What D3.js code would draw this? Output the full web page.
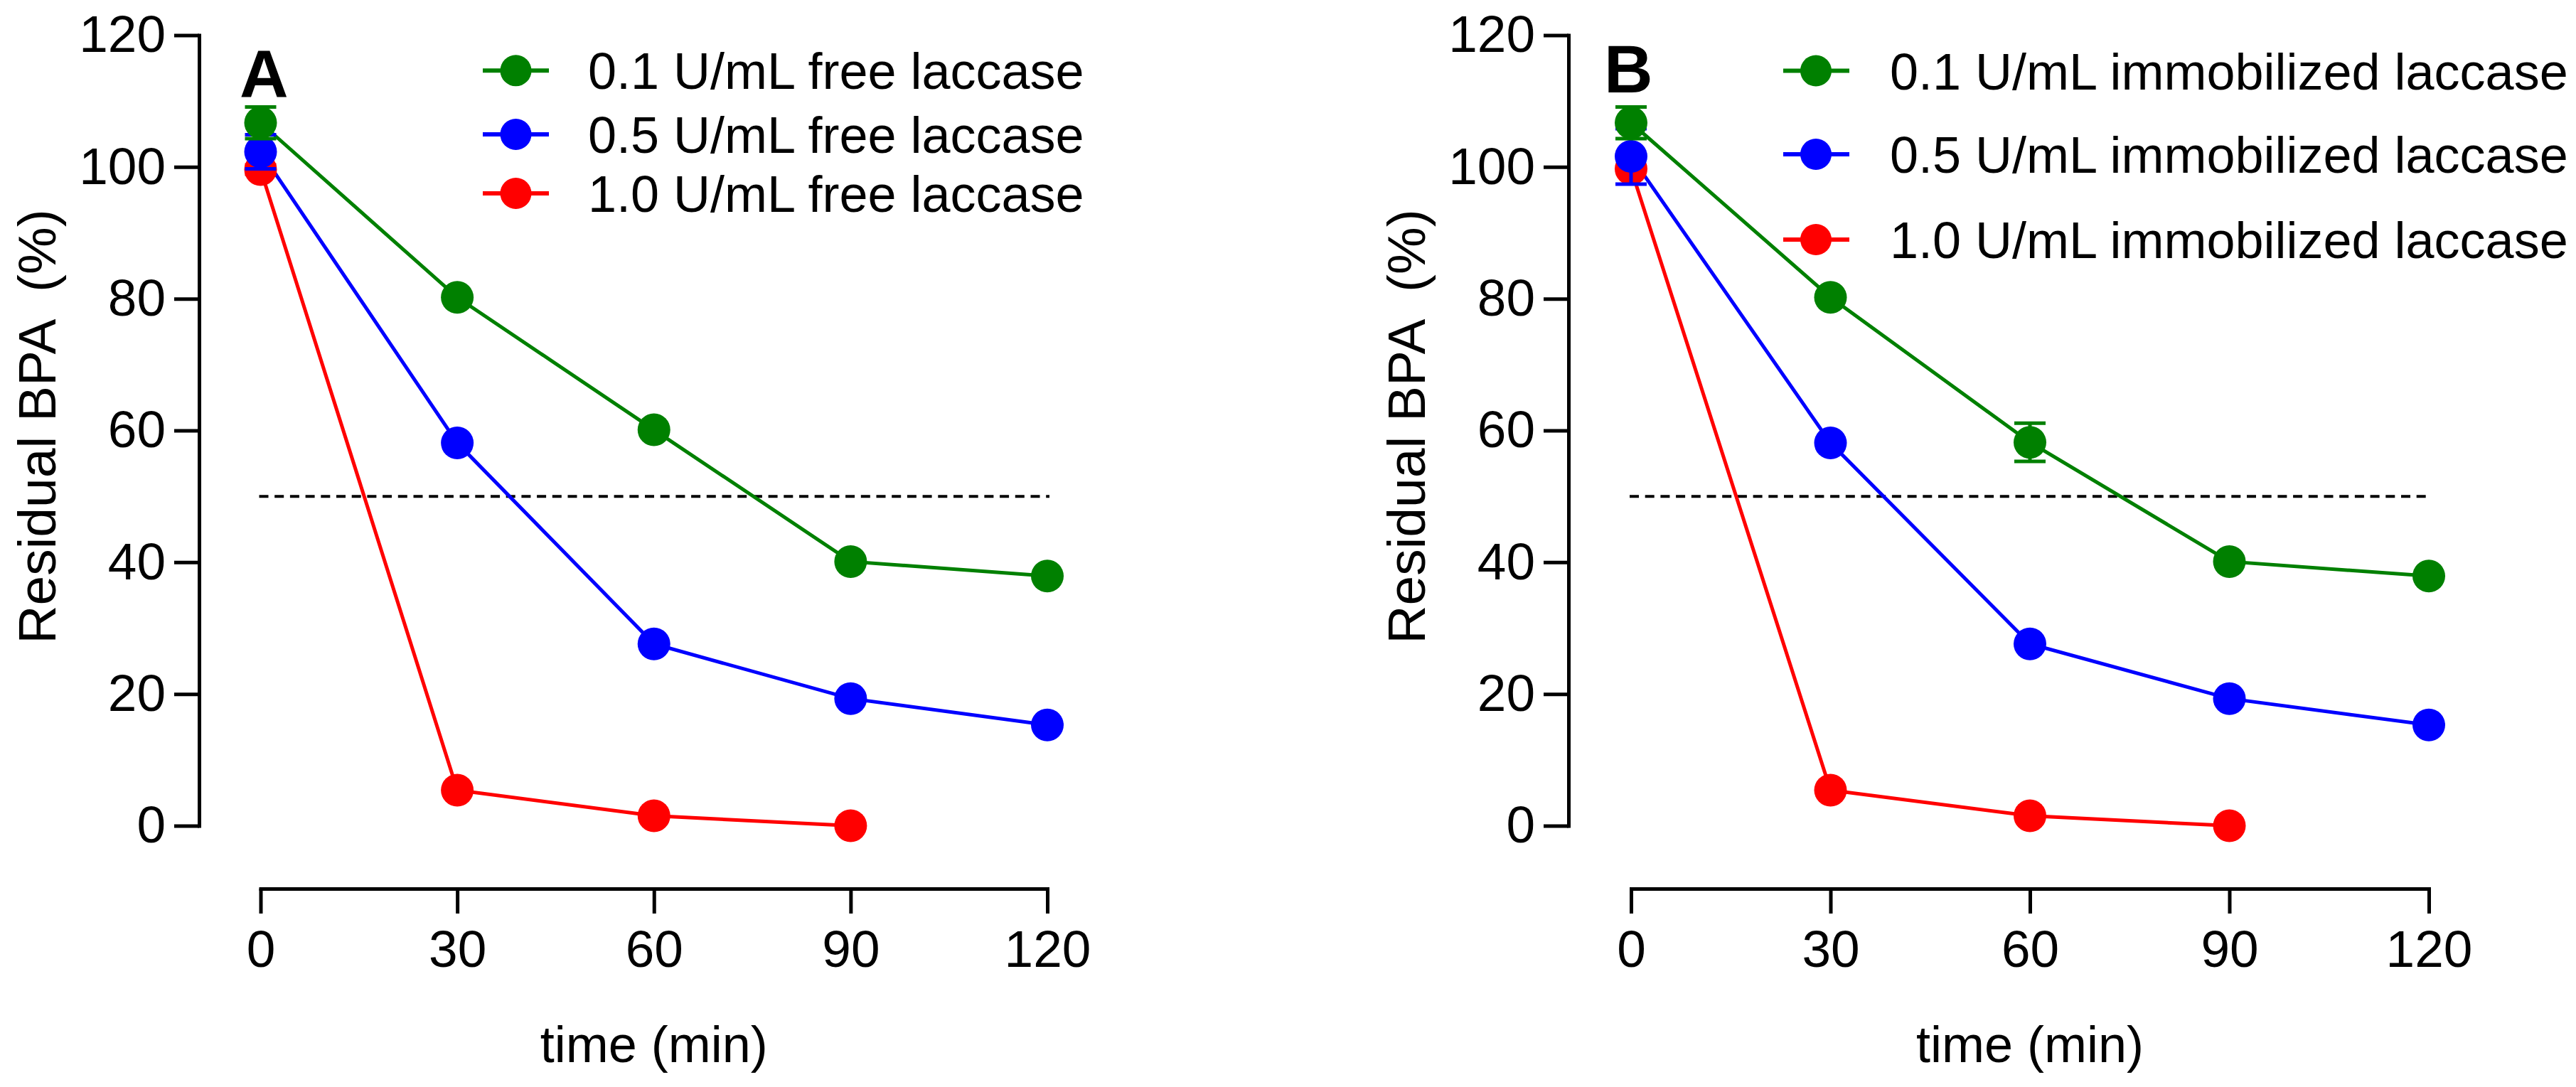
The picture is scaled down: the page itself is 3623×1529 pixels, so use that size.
<!DOCTYPE html>
<html>
<head>
<meta charset="utf-8">
<script src="https://cdn.jsdelivr.net/npm/d3@7"></script>
<style>
    html, body { margin: 0; padding: 0; background: #fff; }
    svg { display: block; }
    text { font-family: "Liberation Sans", Arial, sans-serif; fill: #000; }
</style>
</head>
<body>
<svg class="main" width="3623" height="1529"></svg>
<script>
var times = [0, 30, 60, 90, 120],
    xTicks = [0, 30, 60, 90, 120],
    yTicks = [0, 20, 40, 60, 80, 100, 120],
    colors = ["#008000", "#0000ff", "#ff0000"];

// panel A, free laccase
var freeLow = [106.7, 80.2, 60.1, 40.1, 37.9],
    freeLowErr = [2.4, 0, 0, 0, 0],
    freeMid = [102.3, 58.1, 27.6, 19.3, 15.3],
    freeMidErr = [2.6, 0, 0, 0, 0],
    freeHigh = [99.6, 5.4, 1.5, 0.0],
    freeHighErr = [0.7, 0, 0, 0];

// panel B, immobilized laccase
var immLow = [106.7, 80.2, 58.2, 40.1, 37.9],
    immLowErr = [2.4, 0, 2.9, 0, 0],
    immMid = [101.6, 58.1, 27.6, 19.3, 15.3],
    immMidErr = [4.2, 0, 0, 0, 0],
    immHigh = [99.7, 5.4, 1.5, 0.0],
    immHighErr = [0.5, 0, 0, 0];

var freeLabels = ["0.1 U/mL free laccase", "0.5 U/mL free laccase", "1.0 U/mL free laccase"],
    immLabels = ["0.1 U/mL immobilized laccase", "0.5 U/mL immobilized laccase", "1.0 U/mL immobilized laccase"];

var halfLine = 50;

var main = d3.select(".main"),
    radius = 23,
    capHalf = 22,
    lineWidth = 5,
    tickFont = 73,
    labelFont = 72;

var panels = [
    {
        letter: "A",
        letterX: 337, letterY: 137,
        yAxisX: 280, xRange: [366.5, 1473],
        titleX: 78,
        legend: { lineX: [679, 772], dotX: 725.5, textX: 827, rows: [99.3, 189, 272] },
        labels: freeLabels,
        series: [freeLow, freeMid, freeHigh],
        errors: [freeLowErr, freeMidErr, freeHighErr]
    },
    {
        letter: "B",
        letterX: 2256, letterY: 130,
        yAxisX: 2206, xRange: [2294, 3416],
        titleX: 2004,
        legend: { lineX: [2508, 2601], dotX: 2554, textX: 2658, rows: [99.5, 217, 337] },
        labels: immLabels,
        series: [immLow, immMid, immHigh],
        errors: [immLowErr, immMidErr, immHighErr]
    }
];

var yRange = [1161.5, 49.5],
    xAxisY = 1250;

function drawPanel(p) {
    var g = main.append("g");

    var x = d3.scaleLinear().domain([0, 120]).range(p.xRange),
        y = d3.scaleLinear().domain([0, 120]).range(yRange);

    /**
     * Axes
     */
    var yAxis = g.append("g")
        .attr("transform", "translate(" + p.yAxisX + ",0)")
        .call(d3.axisLeft(y).tickValues(yTicks).tickSize(35).tickSizeOuter(0).tickPadding(12));

    var xAxis = g.append("g")
        .attr("transform", "translate(0," + xAxisY + ")")
        .call(d3.axisBottom(x).tickValues(xTicks).tickSize(35).tickSizeOuter(0).tickPadding(23));

    [yAxis, xAxis].forEach(function(ax) {
        ax.select(".domain").attr("stroke", "#000").attr("stroke-width", 5).attr("stroke-linecap", "square");
        ax.selectAll(".tick line").attr("stroke", "#000").attr("stroke-width", 5);
        ax.selectAll(".tick text")
            .attr("font-size", tickFont)
            .attr("font-family", "Liberation Sans, Arial, sans-serif")
            .attr("fill", "#000");
    });

    // axis titles
    g.append("text")
        .attr("transform", "translate(" + p.titleX + ",600) rotate(-90)")
        .attr("text-anchor", "middle")
        .attr("font-size", 75)
        .style("white-space", "pre")
        .text("Residual BPA  (%)");

    g.append("text")
        .attr("x", (p.xRange[0] + p.xRange[1]) / 2)
        .attr("y", 1494)
        .attr("text-anchor", "middle")
        .attr("font-size", labelFont)
        .text("time (min)");

    // panel letter
    g.append("text")
        .attr("x", p.letterX)
        .attr("y", p.letterY)
        .attr("font-size", 95)
        .attr("font-weight", "bold")
        .text(p.letter);

    // 50% reference line
    g.append("line")
        .attr("x1", x(0) - 2)
        .attr("x2", x(120) + 3)
        .attr("y1", y(halfLine))
        .attr("y2", y(halfLine))
        .attr("stroke", "#000")
        .attr("stroke-width", 4)
        .attr("stroke-dasharray", "13 8.7");

    /**
     * Series: lines first, then bars and dots (lowest dose on top)
     */
    var line = d3.line()
        .x(function(d, i) { return x(times[i]); })
        .y(function(d) { return y(d); });

    p.series.forEach(function(s, k) {
        g.append("path")
            .attr("d", line(s))
            .attr("fill", "none")
            .attr("stroke", colors[k])
            .attr("stroke-width", lineWidth);
    });

    for (var k = p.series.length - 1; k >= 0; k--) {
        var s = p.series[k],
            err = p.errors[k],
            sg = g.append("g").attr("fill", colors[k]).attr("stroke", colors[k]);

        s.forEach(function(v, i) {
            if (!err[i]) return;
            var cx = x(times[i]),
                top = y(v + err[i]),
                bot = y(v - err[i]);
            sg.append("path")
                .attr("fill", "none")
                .attr("stroke-width", 5)
                .attr("d", "M" + cx + "," + top + "V" + bot +
                    "M" + (cx - capHalf) + "," + top + "H" + (cx + capHalf) +
                    "M" + (cx - capHalf) + "," + bot + "H" + (cx + capHalf));
        });

        sg.selectAll("circle")
            .data(s)
            .enter()
            .append("circle")
            .attr("stroke", "none")
            .attr("cx", function(d, i) { return x(times[i]); })
            .attr("cy", function(d) { return y(d); })
            .attr("r", radius);
    }

    /**
     * Legend
     */
    var lg = g.append("g");
    p.labels.forEach(function(label, k) {
        var ry = p.legend.rows[k];
        lg.append("line")
            .attr("x1", p.legend.lineX[0])
            .attr("x2", p.legend.lineX[1])
            .attr("y1", ry)
            .attr("y2", ry)
            .attr("stroke", colors[k])
            .attr("stroke-width", 6);
        lg.append("circle")
            .attr("cx", p.legend.dotX)
            .attr("cy", ry)
            .attr("r", 22)
            .attr("fill", colors[k]);
        lg.append("text")
            .attr("x", p.legend.textX)
            .attr("y", ry + 26)
            .attr("font-size", labelFont)
            .text(label);
    });
}

panels.forEach(drawPanel);
</script>
</body>
</html>
